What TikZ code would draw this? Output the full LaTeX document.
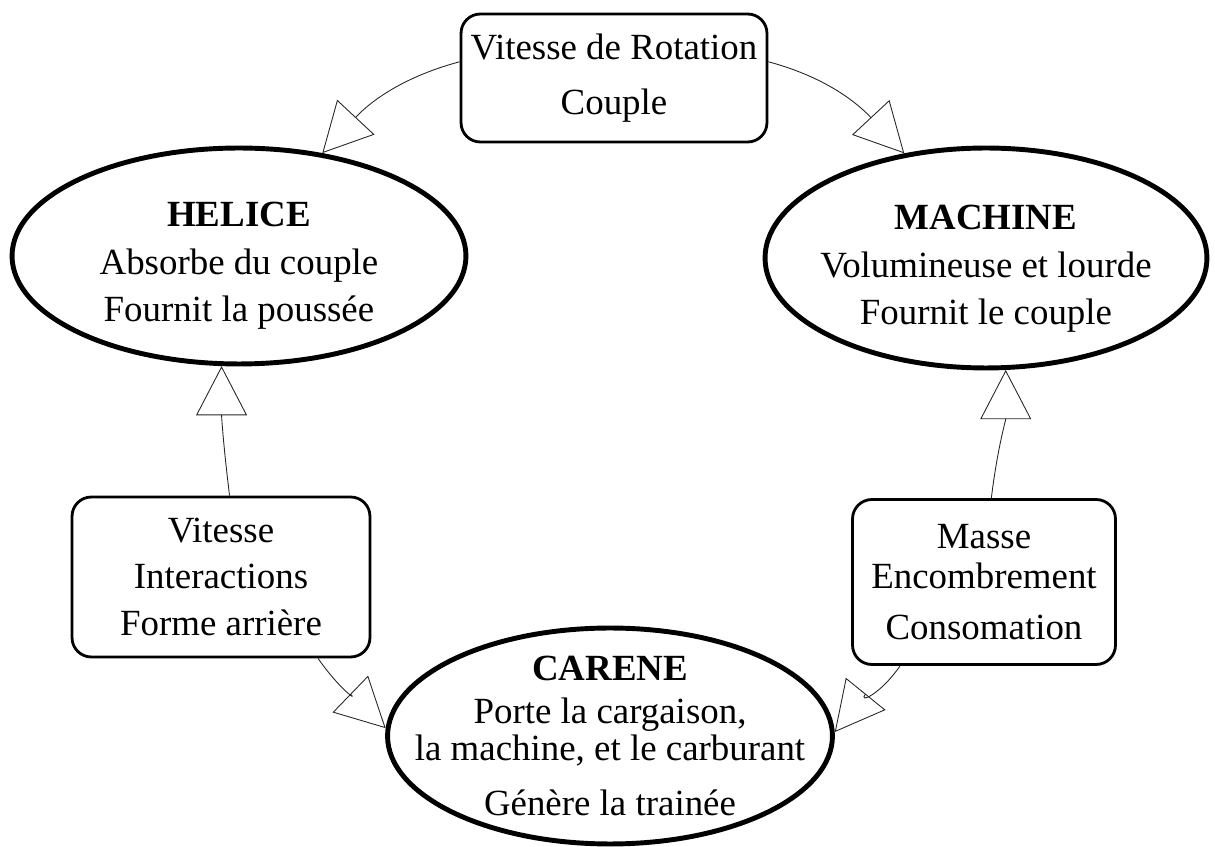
\documentclass[tikz,border=0pt]{standalone}
\usepackage{fontspec}
\setmainfont{Liberation Serif}
\usetikzlibrary{shapes.geometric,arrows.meta}

\tikzset{
  bulle/.style={ellipse, draw, line width=2.8pt, inner sep=0pt},
  texte/.style={align=center, font=\fontsize{21}{27}\selectfont},
  boite/.style={draw, rounded corners=11pt, line width=1.6pt, align=center,
                font=\fontsize{21}{27}\selectfont},
  lien/.style={draw=black!85, line width=0.5pt,
               -{Triangle[open, length=28pt, width=29pt]}}
}

\begin{document}
\begin{tikzpicture}[x=0.02cm, y=-0.02cm]
\useasboundingbox (0,0) rectangle (1215,847);

% les trois ellipses
\node[bulle, minimum width=9.08cm, minimum height=4.32cm] (helice) at (239,256) {};
\node[bulle, minimum width=8.84cm, minimum height=4.40cm] (machine) at (986,258) {};
\node[bulle, minimum width=8.90cm, minimum height=4.32cm] (carene) at (610,736) {};

\node[texte] (helicetxt) at (239,266) {\textbf{HELICE}\\Absorbe du couple\\Fournit la poussée};
\node[texte] (machinetxt) at (986,269) {\textbf{MACHINE}\\Volumineuse et lourde\\Fournit le couple};
\node[texte] (carenetxt) at (610,736) {\textbf{CARENE}\\[-2.5pt]Porte la cargaison,\\[-6pt]la machine, et le carburant\\[4pt]Génère la trainée};

% les boites
\node[boite, minimum width=6.12cm, minimum height=2.56cm] (haut) at (614,78) {Vitesse de Rotation\\[4pt]Couple};
\node[boite, minimum width=5.96cm, minimum height=3.2cm] (gauche) at (221,577) {Vitesse\\[-1pt]Interactions\\Forme arrière};
\node[boite, minimum width=5.26cm, minimum height=3.3cm] (droite) at (984,582) {Masse\\[-4pt]Encombrement\\[2pt]Consomation};

% les liens
\draw[lien] (haut.174) to[out=195, in=47] (helice.51);
\draw[lien] (haut.6) to[out=-15, in=133] (machine.128);
\draw[lien] (gauche.84) to[out=97, in=-90] (helice.261);
\draw[lien] (droite.85) to[out=83, in=-90] (machine.280);
\draw[lien] (gauche.-40) to[out=-55, in=136] (carene.178);
\draw[lien] (droite.-135) to[out=-125, in=51] (carene.1);

\end{tikzpicture}
\end{document}
